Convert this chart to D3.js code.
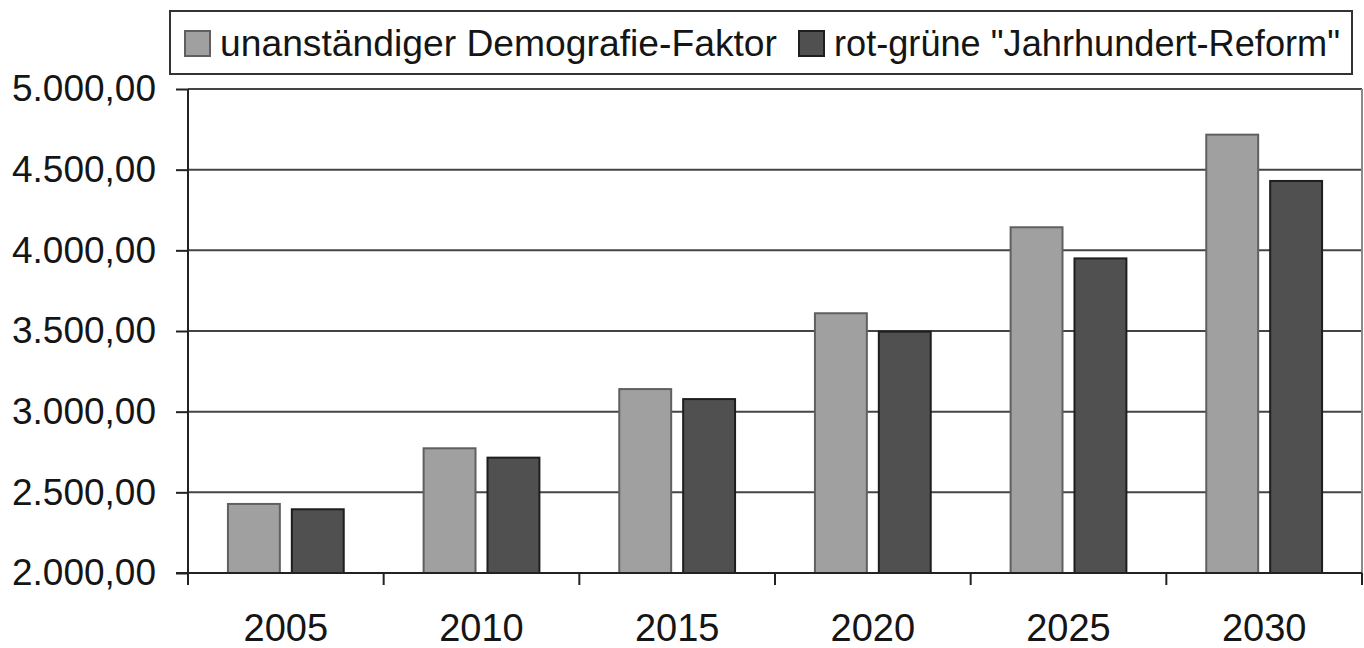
<!DOCTYPE html>
<html><head><meta charset="utf-8">
<script src="https://cdn.jsdelivr.net/npm/d3@7"></script>
<style>
html,body{margin:0;padding:0;background:#fff;}
svg{display:block;font-family:"Liberation Sans",Arial,sans-serif;}
</style></head>
<body><svg id="c" width="1364" height="648"></svg>
<script>
const categories = ["2005","2010","2015","2020","2025","2030"];
const seriesNames = ["unanständiger Demografie-Faktor", "rot-grüne \"Jahrhundert-Reform\""];
const demografie = [2428, 2773, 3140, 3610, 4143, 4717];
const reform = [2395, 2715, 3078, 3496, 3950, 4430];
const yTicks = [2000, 2500, 3000, 3500, 4000, 4500, 5000];
const colors = ["#a0a0a0", "#505050"];
const strokes = ["#606060", "#1e1e1e"];

(function(){
const svg = d3.select("#c");
const pL = 188, pR = 1362, pT = 89, pB = 573;
const y = d3.scaleLinear().domain([2000, 5000]).range([pB, pT]);
const x0 = d3.scaleBand().domain(categories).range([pL, pR]);
const bw0 = x0.bandwidth();
const x1 = d3.scaleBand().domain(seriesNames).range([bw0*40/196, bw0*156/196]).paddingInner(0.1875);
const de = d3.formatLocale({decimal:",", thousands:".", grouping:[3], currency:["","€"]});
const fmt = de.format(",.2f");
const seriesValues = [demografie, reform];
const txtColor = "#151515";

// gridlines
svg.append("g").selectAll("line").data(yTicks.slice(1)).join("line")
  .attr("x1", pL).attr("x2", pR)
  .attr("y1", d => y(d)).attr("y2", d => y(d))
  .attr("stroke", "#444").attr("stroke-width", 2);
// right border
svg.append("line").attr("x1", pR).attr("x2", pR).attr("y1", pT).attr("y2", pB)
  .attr("stroke", "#8a8a8a").attr("stroke-width", 2);

// bars
const groups = svg.append("g").selectAll("g").data(categories).join("g")
  .attr("transform", d => `translate(${x0(d)},0)`);
groups.selectAll("rect").data((d,i) => seriesNames.map((s,j) => ({s, j, v: seriesValues[j][i]}))).join("rect")
  .attr("x", d => x1(d.s)).attr("width", x1.bandwidth())
  .attr("y", d => y(d.v)).attr("height", d => y(2000) - y(d.v))
  .attr("fill", d => colors[d.j]).attr("stroke", d => strokes[d.j]).attr("stroke-width", 2);

// y axis
const yAxis = d3.axisLeft(y).tickValues(yTicks).tickSize(12).tickPadding(20).tickFormat(fmt);
const gy = svg.append("g").attr("transform", `translate(${pL},0)`).call(yAxis);
gy.select(".domain").remove();
gy.selectAll(".tick line").attr("stroke", "#222").attr("stroke-width", 2);
gy.selectAll(".tick text").attr("font-size", 37).attr("fill", txtColor).attr("font-family", "Liberation Sans, Arial, sans-serif");
svg.append("line").attr("x1", pL).attr("x2", pL).attr("y1", pT).attr("y2", pB + 12)
  .attr("stroke", "#222").attr("stroke-width", 2);

// x axis
svg.append("line").attr("x1", pL - 12).attr("x2", pR).attr("y1", pB).attr("y2", pB)
  .attr("stroke", "#222").attr("stroke-width", 2);
const bounds = categories.map(c => x0(c)).concat([x0(categories[categories.length-1]) + bw0]);
svg.append("g").selectAll("line").data(bounds.slice(1)).join("line")
  .attr("x1", d => d).attr("x2", d => d).attr("y1", pB).attr("y2", pB + 12)
  .attr("stroke", "#222").attr("stroke-width", 2);
svg.append("g").selectAll("text").data(categories).join("text")
  .attr("x", d => x0(d) + bw0/2).attr("y", 641).attr("text-anchor", "middle")
  .attr("font-size", 38).attr("fill", txtColor).text(d => d);

// legend
const lg = svg.append("g");
lg.append("rect").attr("x", 170).attr("y", 11).attr("width", 1182).attr("height", 63)
  .attr("fill", "#fff").attr("stroke", "#333").attr("stroke-width", 2);
const legendX = [185, 799];
const legendW = [557, 506];
seriesNames.forEach((s, j) => {
  lg.append("rect").attr("x", legendX[j]).attr("y", 31).attr("width", 25).attr("height", 25)
    .attr("fill", colors[j]).attr("stroke", strokes[j]).attr("stroke-width", 2);
  lg.append("text").attr("x", legendX[j] + 35).attr("y", 56).attr("font-size", 37.5)
    .attr("textLength", legendW[j]).attr("lengthAdjust", "spacingAndGlyphs")
    .attr("fill", txtColor).text(s);
});
})();
</script></body></html>
